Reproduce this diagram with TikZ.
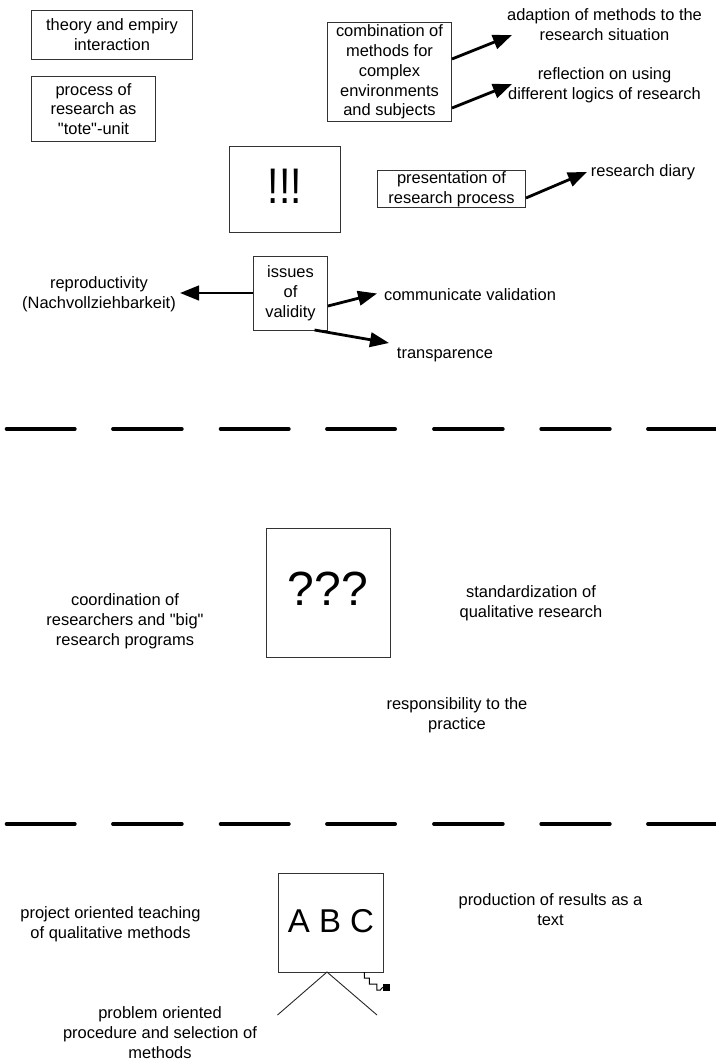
\documentclass[tikz,border=0pt]{standalone}
\usepackage{fontspec}
\usepackage{graphicx}
\newfontfamily\lsans{Liberation Sans}
\usetikzlibrary{arrows.meta}
\tikzset{
 x=1pt,y=-1pt,
 plainbox/.style={draw=black!80,line width=1pt,inner sep=0pt,anchor=north west},
 txt/.style={align=center,font=\lsans\fontsize{16.45}{19.8}\selectfont,inner sep=0pt},
 bigtxt/.style={font=\lsans\fontsize{#1}{#1}\selectfont,inner sep=0pt},
 arr/.style={line width=2.8pt,-{Triangle[length=19pt,width=14.5pt]}},
 sep/.style={line width=3.8pt,line cap=round},
 thin line/.style={line width=0.9pt,draw=black!85}
}
\begin{document}
\begin{tikzpicture}
\useasboundingbox (0,0) rectangle (715,1062);
% boxes
\node[plainbox,minimum width=161pt,minimum height=49pt] (b1) at (31,10) {};
\node[txt] at (b1.center) {theory and empiry\\interaction};
\node[plainbox,minimum width=124pt,minimum height=65pt] (b2) at (31,76) {};
\node[txt] at (b2.center) {process of\\research as\\"tote"-unit};
\node[plainbox,minimum width=124pt,minimum height=99pt] (b3) at (327,22) {};
\node[txt] at (b3.center) {combination of\\methods for\\complex\\environments\\and subjects};
\node[plainbox,minimum width=111pt,minimum height=86pt] (b4) at (229,145.5) {};
\node[bigtxt=50] at (285,186) {\scalebox{0.82}[1]{!!!}};
\node[plainbox,minimum width=148pt,minimum height=37pt] (b5) at (377,170) {};
\node[txt] at (b5.center) {presentation of\\research process};
\node[plainbox,minimum width=74pt,minimum height=74pt] (b6) at (253,256) {};
\node[txt] at (b6.center) {issues\\of\\validity};
\node[plainbox,minimum width=124pt,minimum height=129pt] (b7) at (265.5,528) {};
\node[bigtxt=48] at (328,589) {???};
\node[plainbox,minimum width=105pt,minimum height=99pt] (b8) at (278,873) {};
\node[bigtxt=33] at (331,921) {A B C};
% free texts
\node[txt] (t1) at (604.5,25) {adaption of methods to the\\research situation};
\node[txt] (t2) at (604.5,85) {reflection on using\\different logics of research};
\node[txt] (t3) at (643,172) {research diary};
\node[txt] (t4) at (99,294) {reproductivity\\(Nachvollziehbarkeit)};
\node[txt] (t5) at (470,295) {communicate validation};
\node[txt] (t6) at (445,355) {transparence};
\node[txt] (t7) at (125,621) {coordination of\\researchers and "big"\\research programs};
\node[txt] (t8) at (531,603) {standardization of\\qualitative research};
\node[txt] (t9) at (457,715) {responsibility to the\\practice};
\node[txt] (t10) at (110.5,924) {project oriented teaching\\of qualitative methods};
\node[txt] (t11) at (550.5,910) {production of results as a\\text};
\node[txt] (t12) at (160,1032.5) {problem oriented\\procedure and selection of\\methods};
% arrow ends
\coordinate (a1s) at (b3.east|-0,59); \coordinate (a1e) at (512,35);
\coordinate (a2s) at (b3.east|-0,108); \coordinate (a2e) at (512,84);
\coordinate (a3s) at (b5.east|-0,198); \coordinate (a3e) at (587,172);
\coordinate (a4s) at (b6.west|-0,293); \coordinate (a4e) at (180,293);
\coordinate (a5s) at (b6.east|-0,306); \coordinate (a5e) at (377,293.5);
\coordinate (a6s) at (314.5,330); \coordinate (a6e) at (389,343);
\foreach \i in {1,...,6}{\draw[arr] (a\i s) -- (a\i e);}
% separators
\foreach \y in {429,824}{
 \foreach \a/\b in {6.6/74.8,113/181.8,220.6/288.8,327/395.1,434/502.8,541.2/609.8,648/717}{
  \draw[sep] (\a,\y) -- (\b,\y);}}
% easel
\coordinate (apex) at (327,972);
\coordinate (legl) at (277.5,1015);
\coordinate (legr) at (377,1015);
\draw[thin line] (legl) -- (apex) -- (legr);
\coordinate (cord) at (364.3,972);
\node[fill=black,minimum size=7pt,inner sep=0pt] (plug) at (386.3,987.3) {};
\draw[line width=1pt] (cord) -- ++(0,6) -- ++(5,0) -- ++(0,6) -- ++(7.5,0) -- ++(0,6) -- ++(3.5,0) -- (plug.west);
\end{tikzpicture}
\end{document}
